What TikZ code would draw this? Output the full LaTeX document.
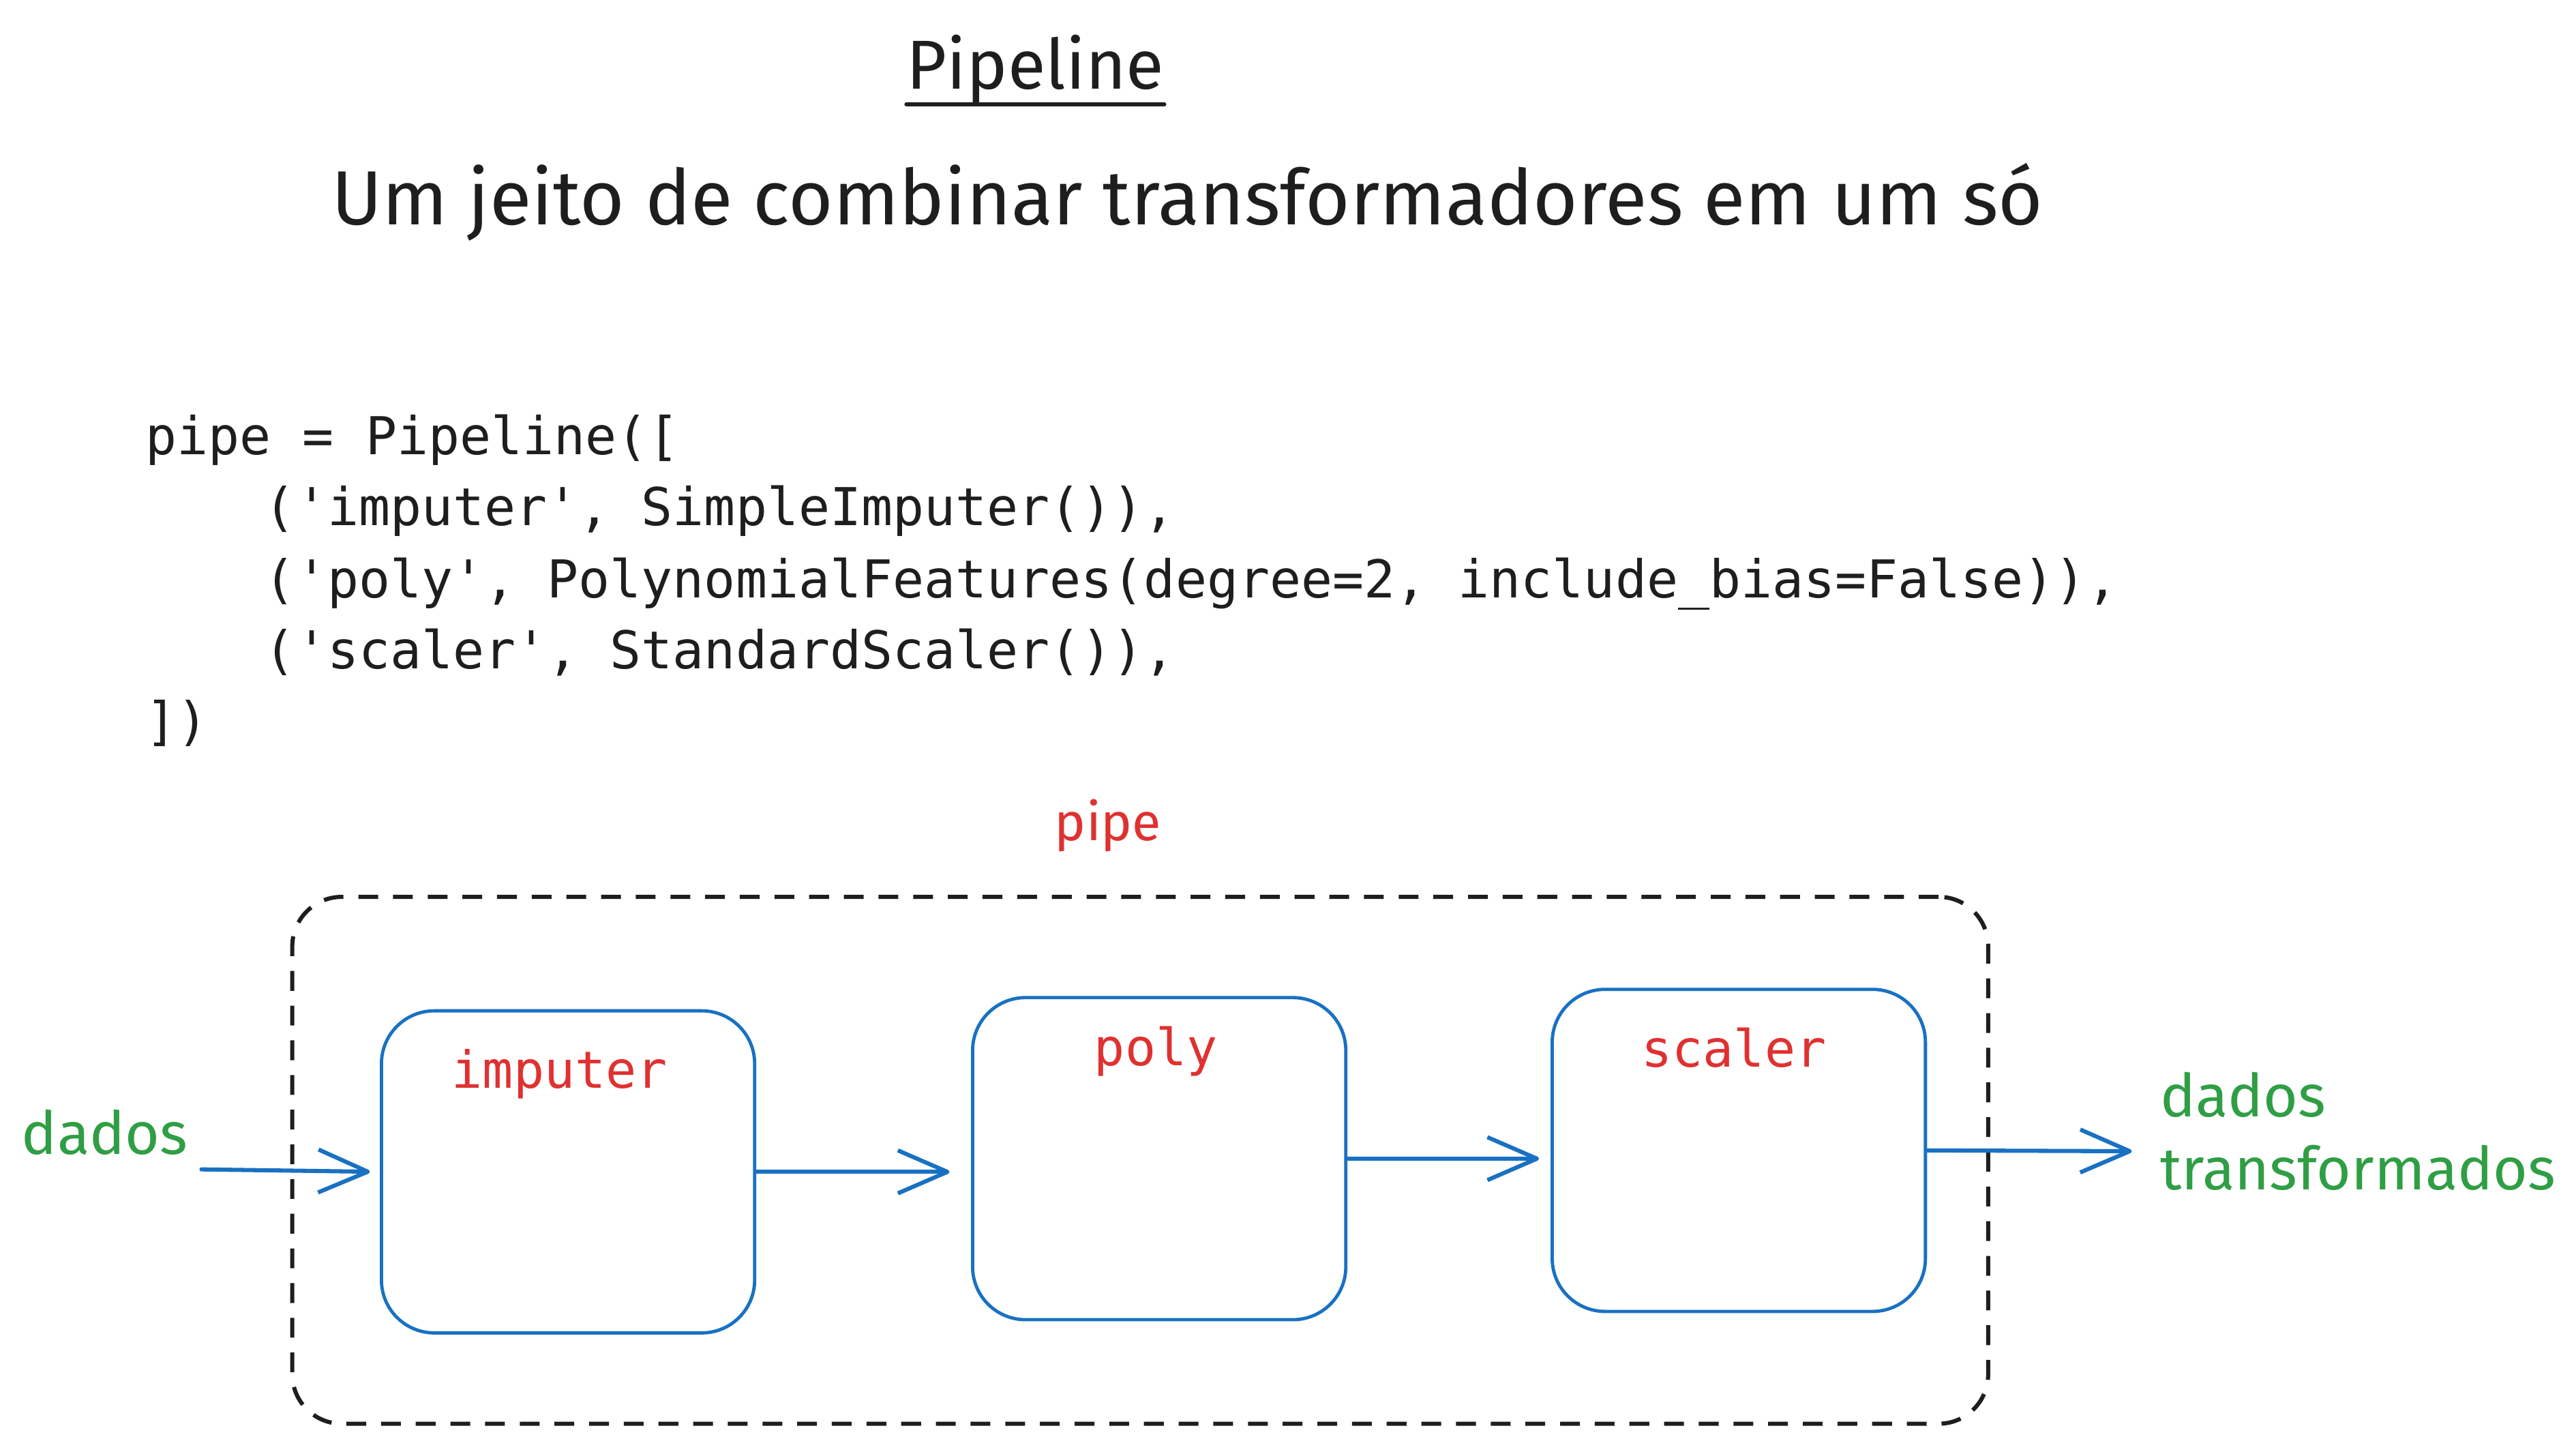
\documentclass[tikz,border=0pt]{standalone}
\usepackage{fontspec}
\usetikzlibrary{arrows.meta, positioning}
\newfontfamily\handfont{Fira Sans}
\newfontfamily\codefont{DejaVu Sans Mono}
\definecolor{boxblue}{HTML}{1971C2}
\definecolor{labelred}{HTML}{E03131}
\definecolor{datagreen}{HTML}{2F9E44}
\definecolor{inkblack}{HTML}{1E1E1E}
\newcommand{\sq}{\textquotesingle}

\begin{document}
\begin{tikzpicture}[
    x=1pt, y=-1pt,
    hand/.style={font=\handfont\fontsize{#1}{#1}\selectfont, inner sep=0pt},
    code/.style={font=\codefont\fontsize{31.6}{36}\selectfont, text=inkblack, anchor=base west, inner sep=0pt},
    container/.style={draw=inkblack, line width=2.5pt, dash pattern=on 12pt off 9pt, rounded corners=30pt, minimum width=1027pt, minimum height=319pt},
    stepbox/.style={draw=boxblue, fill=white, line width=2pt, rounded corners=32pt, minimum width=226pt, minimum height=195pt, inner sep=0pt},
    steplabel/.style={font=\codefont\fontsize{31}{36}\selectfont, text=labelred, anchor=base, inner sep=0pt},
    flow/.style={draw=boxblue, line width=2.5pt, line cap=round, -{Straight Barb[length=30pt, width=26pt, line join=round]}}
]
    \useasboundingbox (0,0) rectangle (1560,871);

    % Heading
    \node[hand=42, text=inkblack, anchor=base] (title) at (627,54) {Pipeline};
    \draw[inkblack, line width=2.5pt, line cap=round] (title.south west) -- (title.south east);
    \node[hand=46.5, text=inkblack, anchor=base] (subtitle) at (719,136) {Um jeito de combinar transformadores em um só};

    % Code
    \node[code] (line1) at (88,275) {pipe = Pipeline([};
    \node[code] (line2) at (160,318) {(\sq imputer\sq, SimpleImputer()),};
    \node[code] (line3) at (160,362) {(\sq poly\sq, PolynomialFeatures(degree=2, include\textunderscore bias=False)),};
    \node[code] (line4) at (160,405) {(\sq scaler\sq, StandardScaler()),};
    \node[code] (line5) at (88,448) {])};

    % Pipeline box
    \node[hand=32, text=labelred, anchor=base] (pipelabel) at (671,509) {pipe};
    \node[container] (pipe) at (690.5,702.5) {};

    \node[stepbox] (imputer) at (344,709.5) {};
    \node[stepbox] (poly) at (702,701.5) {};
    \node[stepbox] (scaler) at (1053,696.5) {};

    \node[steplabel] (imputerlabel) at (339,659) {imputer};
    \node[steplabel] (polylabel) at (700,645) {poly};
    \node[steplabel] (scalerlabel) at (1050,646) {scaler};

    % Data in and out
    \node[hand=36, text=datagreen, anchor=base west] (datain) at (13,699) {dados};
    \node[font=\handfont\fontsize{36}{44}\selectfont, text=datagreen, inner sep=0pt, anchor=north west, align=left] (dataout) at (1308,649) {dados\\transformados};

    \coordinate (in) at (122,708);
    \coordinate (out) at (1291,697);

    \draw[flow, shorten >=6pt] (in) -- (imputer.west);
    \draw[flow, shorten >=13pt] (imputer.east) -- (poly.west |- imputer.east);
    \draw[flow, shorten >=7pt] (poly.east) -- (scaler.west |- poly.east);
    \draw[flow] (scaler.east) -- (out);
\end{tikzpicture}
\end{document}
